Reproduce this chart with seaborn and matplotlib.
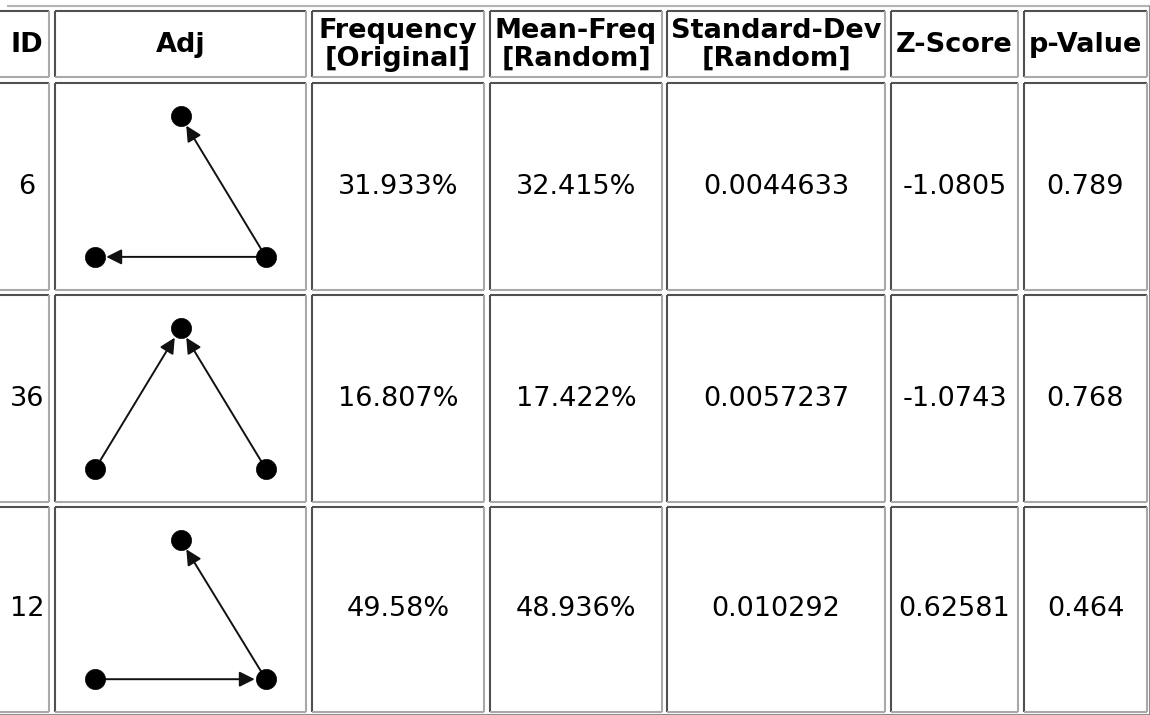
import matplotlib
matplotlib.use("Agg")
import matplotlib.pyplot as plt
import seaborn as sns
import pandas as pd

# ---------------- data ----------------
headers = ["ID", "Adj", "Frequency\n[Original]", "Mean-Freq\n[Random]",
           "Standard-Dev\n[Random]", "Z-Score", "p-Value"]
motif_ids = ["6", "36", "12"]
freq_original = [31.933, 16.807, 49.58]
mean_freq_random = [32.415, 17.422, 48.936]
std_dev_random = [0.0044633, 0.0057237, 0.010292]
z_score = [-1.0805, -1.0743, 0.62581]
p_value = [0.789, 0.768, 0.464]
# motif adjacency: edges between the three nodes (BL = bottom-left, BR = bottom-right, T = top)
motif_edges = [
    [("BR", "T"), ("BR", "BL")],
    [("BL", "T"), ("BR", "T")],
    [("BR", "T"), ("BL", "BR")],
]
node_names = ["BL", "BR", "T"]
node_x = [0.0, 1.0, 0.5]
node_y = [0.0, 0.0, 1.0]

# ---------------- style / layout ----------------
sns.set_theme(style="white")
plt.rcParams["font.family"] = ["DejaVu Sans"]

W, H = 1150, 715
fig = plt.figure(figsize=(W / 100, H / 100), dpi=100)
fig.patch.set_facecolor("white")
ax = fig.add_axes([0, 0, 1, 1])
ax.set_xlim(0, W)
ax.set_ylim(H, 0)
ax.axis("off")

col_left = [-10, 55, 312, 490, 667, 891, 1024]
col_right = [49, 306, 484, 662, 885, 1018, 1147]
row_top = [11, 83, 295, 507]
row_bot = [77, 290, 502, 712]

DARK = "#505050"
LIGHT = "#a9a9a9"
LW = 1.5

# outer table border
ax.plot([7, 1149.5], [5.5, 5.5], color="#b4b4b4", lw=LW, solid_capstyle="butt")
ax.plot([1149.5, 1149.5], [5.5, 714.5], color="#8c8c8c", lw=LW, solid_capstyle="butt")
ax.plot([0, 1149.5], [714.5, 714.5], color="#8c8c8c", lw=LW, solid_capstyle="butt")

# cell borders (inset style)
for t, b in zip(row_top, row_bot):
    for l, r in zip(col_left, col_right):
        ax.plot([l, r], [t, t], color=DARK, lw=LW, solid_capstyle="butt")
        ax.plot([l, l], [t, b], color=DARK, lw=LW, solid_capstyle="butt")
        ax.plot([l, r], [b, b], color=LIGHT, lw=LW, solid_capstyle="butt")
        ax.plot([r, r], [t, b], color=LIGHT, lw=LW, solid_capstyle="butt")

def col_center(i):
    if i == 0:
        return 27
    return (col_left[i] + col_right[i]) / 2

# headers
for i, h in enumerate(headers):
    ax.text(col_center(i), (row_top[0] + row_bot[0]) / 2 + 1, h, ha="center", va="center",
            fontsize=19.5, fontweight="bold", color="black", linespacing=1.08)

# values
columns = [
    motif_ids,
    None,
    [f"{v:g}%" for v in freq_original],
    [f"{v:g}%" for v in mean_freq_random],
    [f"{v:g}" for v in std_dev_random],
    [f"{v:g}" for v in z_score],
    [f"{v:g}" for v in p_value],
]
for ri in range(3):
    cy = (row_top[ri + 1] + row_bot[ri + 1]) / 2
    for ci, col in enumerate(columns):
        if col is None:
            continue
        ax.text(col_center(ci), cy, col[ri], ha="center", va="center",
                fontsize=19.5, color="black")

# motif drawings
pos = dict(zip(node_names, zip(node_x, node_y)))
frac = 0.68
pad = (1 / frac - 1) / 2
for ri, edges in enumerate(motif_edges):
    l, r = col_left[1], col_right[1]
    t, b = row_top[ri + 1], row_bot[ri + 1]
    iax = fig.add_axes([l / W, 1 - b / H, (r - l) / W, (b - t) / H])
    iax.set_xlim(-pad, 1 + pad)
    iax.set_ylim(-pad, 1 + pad)
    iax.axis("off")
    iax.patch.set_alpha(0)
    for s, d in edges:
        iax.annotate("", xy=pos[d], xytext=pos[s],
                     arrowprops=dict(arrowstyle="-|>", color="#111111", lw=1.4,
                                     mutation_scale=23, shrinkA=0, shrinkB=8),
                     zorder=2)
    nodes = pd.DataFrame({"x": node_x, "y": node_y})
    sns.scatterplot(data=nodes, x="x", y="y", ax=iax, color="black", s=210,
                    edgecolor="black", linewidth=0.5, legend=False, zorder=3)
    iax.set_xlabel("")
    iax.set_ylabel("")

fig.savefig("out.png", dpi=100, facecolor="white")
